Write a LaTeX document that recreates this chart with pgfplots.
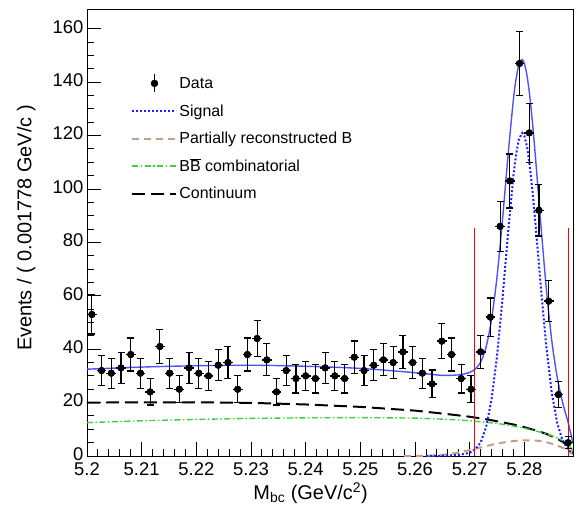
\documentclass[border=0pt]{standalone}
\usepackage{pgfplots}
\usepackage{pgfplotstable}
\pgfplotsset{compat=1.18}
\usepackage{fontspec}
\setmainfont{Liberation Sans}
\newcommand{\Bbar}{{\setbox0\hbox{B}\rlap{\rule[1.08\ht0]{\wd0}{0.7pt}}B}}
\definecolor{sigblue}{RGB}{30,30,255}
\definecolor{totblue}{RGB}{80,80,255}
\definecolor{partbrown}{RGB}{195,160,135}
\definecolor{combgreen}{RGB}{60,210,60}

\pgfplotstableread{
x y ey
5.200889 53 7.3
5.202667 32 5.7
5.204445 31 5.6
5.206223 33 5.7
5.208001 38 6.2
5.209779 31 5.6
5.211557 24 4.9
5.213335 41 6.4
5.215113 31 5.6
5.216891 25 5.0
5.218669 33 5.7
5.220447 31 5.6
5.222225 30 5.5
5.224003 34 5.8
5.225781 35 5.9
5.227559 25 5.0
5.229337 38 6.2
5.231115 44 6.6
5.232893 36 6.0
5.234671 24 4.9
5.236449 32 5.7
5.238227 29 5.4
5.240005 30 5.5
5.241783 29 5.4
5.243561 33 5.7
5.245339 30 5.5
5.247117 29 5.4
5.248895 37 6.1
5.250673 32 5.7
5.252451 34 5.8
5.254229 36 6.0
5.256007 35 5.9
5.257785 39 6.2
5.259563 35 5.9
5.261341 31 5.6
5.263119 27 5.2
5.264897 43 6.6
5.266675 38 6.2
5.268453 29 5.4
5.270231 25 5.0
5.272009 39 6.2
5.273787 52 7.2
5.275565 86 9.3
5.277343 103 10.1
5.279121 147 12.1
5.280899 121 11.0
5.282677 92 9.6
5.284455 58 7.6
5.286233 23 4.8
5.288011 5 2.2
}\datatable

\begin{document}
\begin{tikzpicture}
\begin{axis}[
  at={(0,0)}, anchor=south west,
  width=486bp, height=447bp, scale only axis,
  xmin=5.2, xmax=5.2889, ymin=0, ymax=167.4,
  xtick={5.2,5.21,5.22,5.23,5.24,5.25,5.26,5.27,5.28},
  xticklabels={5.2,5.21,5.22,5.23,5.24,5.25,5.26,5.27,5.28},
  ytick={0,20,40,60,80,100,120,140,160},
  yticklabels={0,20,40,60,80,100,120,140,160},
  minor x tick num=4, minor y tick num=3,
  xmajorticks=true, ymajorticks=true, xminorticks=true, yminorticks=true,
  tick align=inside, tick pos=left,
  major tick length=14bp, minor tick length=7bp,
  tick style={black, line width=0.9pt},
  tick label style={font=\fontsize{18.5}{21}\selectfont},
  xticklabel style={yshift=-3bp},
  yticklabel style={yshift=2bp},
  xlabel={M\textsubscript{bc} (GeV/c\textsuperscript{2})},
  ylabel={Events / ( 0.001778 GeV/c )},
  every axis x label/.style={at={(axis description cs:0.46,-0.083)}, anchor=center, font=\fontsize{20}{23}\selectfont},
  every axis y label/.style={at={(axis description cs:-0.125,0.51)}, rotate=90, anchor=center, font=\fontsize{20}{23}\selectfont},
  legend style={draw=none, fill=none, at={(axis description cs:0.085,0.86)}, anchor=north west,
    font=\fontsize{16}{19}\selectfont, row sep=10bp},
  legend cell align=left,
]
% continuum
\addplot[black, line width=2pt, dash pattern=on 13bp off 6bp, forget plot] coordinates {
(5.200,20.0) (5.210,20.1) (5.220,20.1) (5.230,19.9) (5.240,19.3) (5.250,18.4)
(5.260,17.0) (5.265,15.9) (5.268,15.2) (5.270,14.7) (5.272,14.1) (5.274,13.4)
(5.276,12.6) (5.278,11.8) (5.280,10.8) (5.282,9.6) (5.283,9.0) (5.284,8.3)
(5.285,7.4) (5.286,6.5) (5.287,5.3) (5.288,3.8) (5.2889,1.2)};
% BB combinatorial
\addplot[combgreen, line width=1.4pt, dash pattern=on 6bp off 2.5bp on 1.5bp off 2.5bp, forget plot] coordinates {
(5.200,12.5) (5.210,13.2) (5.220,13.7) (5.230,14.1) (5.240,14.3) (5.250,14.4)
(5.260,14.2) (5.265,13.8) (5.268,13.5) (5.270,13.2) (5.272,12.8) (5.274,12.4)
(5.276,11.9) (5.278,11.2) (5.280,10.4) (5.282,9.4) (5.283,8.9) (5.284,8.3)
(5.285,7.6) (5.286,6.8) (5.287,5.8) (5.288,4.4) (5.2889,2.0)};
% partially reconstructed B
\addplot[partbrown, line width=2pt, dash pattern=on 7bp off 5bp, forget plot] coordinates {
(5.258,0) (5.262,0.05) (5.265,0.4) (5.268,1.3) (5.270,2.2) (5.272,3.2) (5.274,4.2)
(5.276,5.0) (5.278,5.6) (5.280,5.9) (5.282,5.8) (5.283,5.6) (5.284,5.2)
(5.285,4.6) (5.286,3.9) (5.287,3.1) (5.288,2.0) (5.2889,0.6)};
% signal
\addplot[sigblue, line width=2pt, dash pattern=on 2bp off 2bp, forget plot] coordinates {
(5.262,0) (5.265,0.1) (5.268,0.4) (5.270,1.2) (5.271,2.5) (5.272,5.0) (5.273,10.8)
(5.274,21.2) (5.275,37.3) (5.276,58.9) (5.277,83.1) (5.278,105.0) (5.2785,113.1)
(5.279,118.6) (5.2796,121.0) (5.280,119.9) (5.2805,115.7) (5.281,108.5)
(5.2815,99.0) (5.282,87.9) (5.283,63.7) (5.284,41.3) (5.285,23.9) (5.286,12.4)
(5.287,5.8) (5.288,2.4) (5.2889,1.0)};
% total
\addplot[totblue, line width=1.4pt, smooth, forget plot] coordinates {
(5.200,32.5) (5.210,33.3) (5.220,33.8) (5.230,34.0) (5.240,33.6) (5.250,32.8)
(5.260,31.2) (5.265,30.2) (5.268,30.4) (5.270,31.3) (5.271,32.6) (5.272,35.1)
(5.273,40.8) (5.274,51.2) (5.275,67.1) (5.276,88.4) (5.277,112.2) (5.278,133.6)
(5.2785,141.3) (5.279,146.5) (5.2796,148.5) (5.280,147.0) (5.2805,142.3)
(5.281,134.6) (5.2815,124.5) (5.282,112.7) (5.283,87.2) (5.284,63.1) (5.285,43.5)
(5.286,29.6) (5.287,20.0) (5.288,12.6) (5.2889,4.8)};
% signal-region lines
\addplot[red, line width=1pt, forget plot] coordinates {(5.2708,0) (5.2708,85.5)};
\addplot[red, line width=1pt, forget plot] coordinates {(5.2880,0) (5.2880,85.5)};
% data
\addplot[black, only marks, mark=*, mark size=3.3bp, forget plot,
  error bars/.cd, x dir=both, x fixed=0.000889, error mark=none,
  error bar style={line width=1.4pt}] table[x=x,y=y] {\datatable};
\addplot[black, only marks, mark=*, mark size=3.3bp, forget plot,
  error bars/.cd, y dir=both, y explicit,
  error bar style={line width=1.2pt},
  error mark options={rotate=90, mark size=3.5bp, line width=1.2pt}] table[x=x,y=y,y error=ey] {\datatable};
% legend
\addlegendimage{legend image code/.code={\draw[black,line width=1.2pt] (22bp,-9bp) -- (22bp,9bp); \fill[black] (22bp,0bp) circle (3.5bp);}}
\addlegendentry{Data}
\addlegendimage{legend image code/.code={\draw[sigblue,line width=2pt,dash pattern=on 2bp off 2bp] (0bp,0bp) -- (44bp,0bp);}}
\addlegendentry{Signal}
\addlegendimage{legend image code/.code={\draw[partbrown,line width=2pt,dash pattern=on 7bp off 5bp] (0bp,0bp) -- (44bp,0bp);}}
\addlegendentry{Partially reconstructed B}
\addlegendimage{legend image code/.code={\draw[combgreen,line width=1.4pt,dash pattern=on 6bp off 2.5bp on 1.5bp off 2.5bp] (0bp,0bp) -- (44bp,0bp);}}
\addlegendentry{B\Bbar{} combinatorial}
\addlegendimage{legend image code/.code={\draw[black,line width=2pt,dash pattern=on 13bp off 6bp] (0bp,0bp) -- (44bp,0bp);}}
\addlegendentry{Continuum}
\end{axis}
\path (-87bp,-64bp) rectangle (489bp,456bp);
\end{tikzpicture}
\end{document}
